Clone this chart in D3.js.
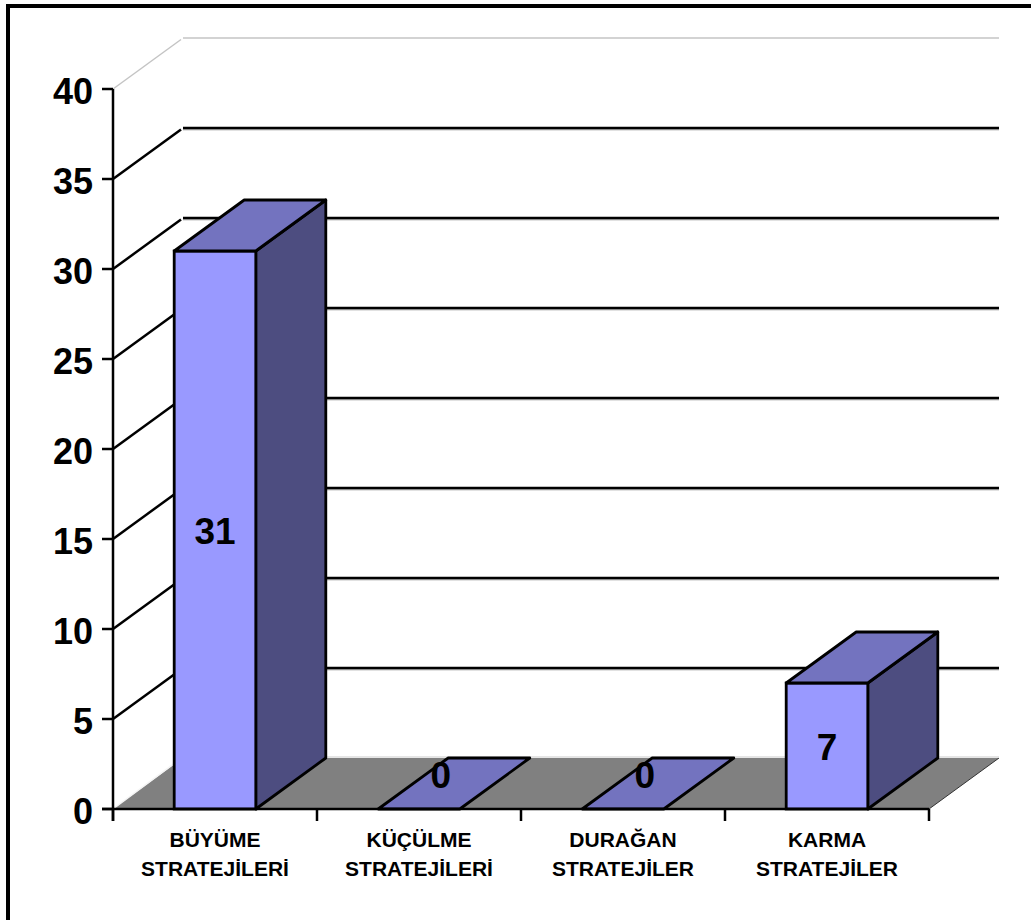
<!DOCTYPE html>
<html>
<head>
<meta charset="utf-8">
<script src="https://cdn.jsdelivr.net/npm/d3@7/dist/d3.min.js"></script>
<style>
  html, body { margin: 0; padding: 0; background: #fff; }
  svg { display: block; }
  text { font-family: Arial, "Liberation Sans", sans-serif; font-weight: bold; fill: #000; }
</style>
</head>
<body>
<svg id="chart" width="1031" height="920"></svg>
<script>
// Strategy counts
const categories = [
  ["BÜYÜME", "STRATEJİLERİ"],
  ["KÜÇÜLME", "STRATEJİLERİ"],
  ["DURAĞAN", "STRATEJİLER"],
  ["KARMA", "STRATEJİLER"]
];
const values = [31, 0, 0, 7];
const yTicks = [0, 5, 10, 15, 20, 25, 30, 35, 40];

(function draw() {
  const svg = d3.select("#chart");

  // Plot geometry (front plane + depth offset for the 3D walls)
  const plotLeft = 113, plotRight = 929, plotBottom = 809, plotTop = 89;
  const depthX = 70, depthY = -51;

  const keys = categories.map(c => c.join(" "));
  const x = d3.scaleBand().domain(keys).range([plotLeft, plotRight]).padding(0);
  const y = d3.scaleLinear().domain([0, 40]).range([plotBottom, plotTop]);
  const barW = x.bandwidth() * 0.4;

  // Outer frame
  svg.append("rect")
    .attr("x", 8).attr("y", 6)
    .attr("width", 1100).attr("height", 1000)
    .attr("fill", "none").attr("stroke", "#000").attr("stroke-width", 4);

  // Back wall gridlines and left wall diagonals
  const grid = svg.append("g");
  yTicks.filter(t => t > 0).forEach(t => {
    const yy = y(t);
    const isTop = t === 40;
    const col = isTop ? "#c4c4c4" : "#000";
    if (!isTop) {
      grid.append("line")
        .attr("x1", plotLeft + depthX).attr("x2", plotRight + depthX)
        .attr("y1", yy + depthY + 1.8).attr("y2", yy + depthY + 1.8)
        .attr("stroke", "#9a9a9a").attr("stroke-width", 1);
    }
    grid.append("line")
      .attr("x1", plotLeft + depthX).attr("x2", plotRight + depthX)
      .attr("y1", yy + depthY).attr("y2", yy + depthY)
      .attr("stroke", col).attr("stroke-width", isTop ? 1.5 : 2.5);
    grid.append("line")
      .attr("x1", plotLeft).attr("y1", yy)
      .attr("x2", plotLeft + depthX - 2).attr("y2", yy + depthY + 1.5)
      .attr("stroke", col).attr("stroke-width", isTop ? 1.5 : 2.5);
  });

  // Floor
  const y0 = y(0);
  svg.append("path")
    .attr("d", `M${plotLeft},${y0} L${plotRight},${y0} L${plotRight + depthX},${y0 + depthY} L${plotLeft + depthX},${y0 + depthY} Z`)
    .attr("fill", "#808080").attr("stroke", "none");
  svg.append("line")
    .attr("x1", plotRight).attr("y1", y0)
    .attr("x2", plotRight + depthX).attr("y2", y0 + depthY)
    .attr("stroke", "#333").attr("stroke-width", 1);
  svg.append("line")
    .attr("x1", plotLeft + depthX).attr("x2", plotRight + depthX)
    .attr("y1", y0 + depthY - 1).attr("y2", y0 + depthY - 1)
    .attr("stroke", "#dcdcdc").attr("stroke-width", 1.5);
  svg.append("line")
    .attr("x1", plotLeft).attr("y1", y0)
    .attr("x2", plotLeft + depthX).attr("y2", y0 + depthY - 1)
    .attr("stroke", "#f4f4f4").attr("stroke-width", 1.5);

  // 3D bars
  const bars = svg.append("g").selectAll("g")
    .data(values.map((v, i) => ({ key: keys[i], v })))
    .join("g");

  bars.each(function (d) {
    const g = d3.select(this);
    const x0 = x(d.key) + (x.bandwidth() - barW) / 2;
    const x1 = x0 + barW;
    const yt = y(d.v);
    if (d.v > 0) {
      g.append("path")
        .attr("d", `M${x1},${yt} L${x1 + depthX},${yt + depthY} L${x1 + depthX},${y0 + depthY} L${x1},${y0} Z`)
        .attr("fill", "#4d4d80").attr("stroke", "#000").attr("stroke-width", 2.8)
        .attr("stroke-linejoin", "round");
      g.append("rect")
        .attr("x", x0).attr("y", yt)
        .attr("width", barW).attr("height", y0 - yt)
        .attr("fill", "#9999ff").attr("stroke", "#000").attr("stroke-width", 2.8);
    }
    g.append("path")
      .attr("d", `M${x0},${yt} L${x0 + depthX},${yt + depthY} L${x1 + depthX},${yt + depthY} L${x1},${yt} Z`)
      .attr("fill", "#7373bf").attr("stroke", "#000").attr("stroke-width", 2.8)
      .attr("stroke-linejoin", "round");
  });

  // Axes
  svg.append("line")
    .attr("x1", plotLeft).attr("x2", plotLeft)
    .attr("y1", y(40)).attr("y2", y0 + 12)
    .attr("stroke", "#000").attr("stroke-width", 2.5);
  svg.append("line")
    .attr("x1", plotLeft - 11).attr("x2", plotRight)
    .attr("y1", y0).attr("y2", y0)
    .attr("stroke", "#000").attr("stroke-width", 2.5);

  yTicks.forEach(t => {
    svg.append("line")
      .attr("x1", plotLeft - 11).attr("x2", plotLeft)
      .attr("y1", y(t)).attr("y2", y(t))
      .attr("stroke", "#000").attr("stroke-width", 2.5);
    svg.append("text")
      .attr("x", plotLeft - 20).attr("y", y(t) + 15)
      .attr("text-anchor", "end")
      .style("font-size", "36px")
      .text(t);
  });

  const catEdges = keys.map(k => x(k)).concat([plotRight]);
  catEdges.forEach(cx => {
    svg.append("line")
      .attr("x1", cx).attr("x2", cx)
      .attr("y1", y0).attr("y2", y0 + 12)
      .attr("stroke", "#000").attr("stroke-width", 2.5);
  });

  categories.forEach((lines, i) => {
    const cx = x(keys[i]) + x.bandwidth() / 2;
    lines.forEach((ln, j) => {
      svg.append("text")
        .attr("x", cx).attr("y", 847 + j * 29)
        .attr("text-anchor", "middle")
        .style("font-size", "21px")
        .text(ln);
    });
  });

  // Value labels
  values.forEach((v, i) => {
    const cx = x(keys[i]) + x.bandwidth() / 2;
    let lx = cx, ly;
    if (v > 0) {
      ly = (y(v) + y0) / 2 + 14;
    } else {
      lx = cx + depthX * 0.31;
      ly = y0 + depthY * 0.41;
    }
    svg.append("text")
      .attr("x", lx).attr("y", ly)
      .attr("text-anchor", "middle")
      .style("font-size", "37px")
      .text(v);
  });
})();
</script>
</body>
</html>
